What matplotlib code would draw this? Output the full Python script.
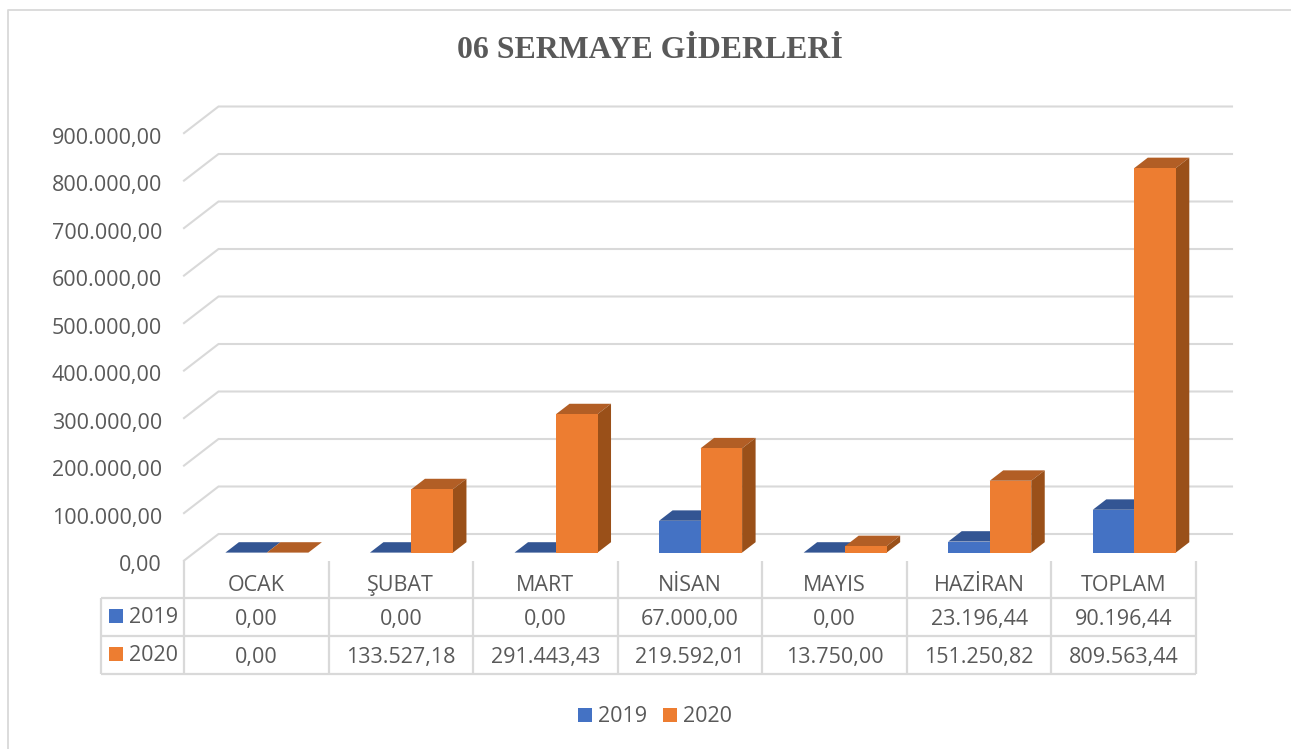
import matplotlib
matplotlib.use("Agg")
import matplotlib.pyplot as plt
from matplotlib.patches import Polygon, Rectangle
from matplotlib.lines import Line2D

# ---- data ----
categories = ["OCAK", "ŞUBAT", "MART", "NİSAN", "MAYIS", "HAZİRAN", "TOPLAM"]
series_names = ["2019", "2020"]
values_2019 = [0.00, 0.00, 0.00, 67000.00, 0.00, 23196.44, 90196.44]
values_2020 = [0.00, 133527.18, 291443.43, 219592.01, 13750.00, 151250.82, 809563.44]
labels_2019 = ["0,00", "0,00", "0,00", "67.000,00", "0,00", "23.196,44", "90.196,44"]
labels_2020 = ["0,00", "133.527,18", "291.443,43", "219.592,01", "13.750,00", "151.250,82", "809.563,44"]
y_ticks = [0, 100000, 200000, 300000, 400000, 500000, 600000, 700000, 800000, 900000]
y_tick_labels = ["0,00", "100.000,00", "200.000,00", "300.000,00", "400.000,00",
                 "500.000,00", "600.000,00", "700.000,00", "800.000,00", "900.000,00"]
title = "06 SERMAYE GİDERLERİ"

# ---- styling / layout (pixels) ----
W, H = 1291, 749
BLUE, BLUE_TOP = "#4472C4", "#335593"
ORANGE, ORANGE_TOP, ORANGE_SIDE = "#ED7D31", "#B25E25", "#9A5019"
BLUE_SIDE = "#2B4A85"
GRID, TEXT = "#D9D9D9", "#595959"
FONT = "Open Sans"
FS = 15.5
X0, CAT_W = 184.0, 144.57      # pixel of category 0 edge, pixels per category
Y0, PX_PER_UNIT = 552.6, 47.5e-5
BAR_W = 41.5 / CAT_W
BAR_SHIFT = 10.6 / CAT_W       # bar group centre offset in the category
DEPTH_X, DEPTH_Y = 13.5 / CAT_W, 10.4 / PX_PER_UNIT     # bar depth
FRONT_X, FRONT_Y = 0.0, -8.0 / PX_PER_UNIT              # floor front edge
BACK_X, BACK_Y = 34.5 / CAT_W, 18.6 / PX_PER_UNIT       # back wall
GRID_END = (1232 - X0) / CAT_W

fig = plt.figure(figsize=(W / 100, H / 100), dpi=100, facecolor="white")
ax = fig.add_axes([0, 0, 1, 1])
ax.set_xlim((0 - X0) / CAT_W, (W - X0) / CAT_W)
ax.set_ylim((Y0 - H) / PX_PER_UNIT, Y0 / PX_PER_UNIT)
ax.axis("off")

def px(x, y):
    """Pixel layout position to figure fraction."""
    return x / W, 1 - y / H

def fig_line(xs, ys, color=GRID, lw=1.6):
    fig.add_artist(Line2D([x / W for x in xs], [1 - y / H for y in ys],
                          color=color, lw=lw, solid_capstyle="butt"))

# frame
fig_line([8, 8, W], [H, 10, 10], lw=1.3)

# gridlines with the floor/wall bend, and value axis labels
for t, lab in zip(y_ticks, y_tick_labels):
    ax.plot([FRONT_X, BACK_X, GRID_END],
            [t + FRONT_Y, t + BACK_Y, t + BACK_Y],
            color=GRID, lw=1.5, zorder=1, solid_joinstyle="miter")
    ax.annotate(lab, (FRONT_X, t + FRONT_Y), xytext=(-22, -5), textcoords="offset pixels",
                ha="right", va="center", fontsize=FS, color=TEXT, family=FONT)

def draw_bar(x, v, front, top, side, z):
    ax.add_patch(Polygon([(x, v), (x + DEPTH_X, v + DEPTH_Y),
                          (x + BAR_W + DEPTH_X, v + DEPTH_Y), (x + BAR_W, v)],
                         closed=True, fc=top, ec="none", zorder=z))
    ax.add_patch(Polygon([(x + BAR_W, 0), (x + BAR_W + DEPTH_X, DEPTH_Y),
                          (x + BAR_W + DEPTH_X, v + DEPTH_Y), (x + BAR_W, v)],
                         closed=True, fc=side, ec="none", zorder=z))
    ax.add_patch(Rectangle((x, 0), BAR_W, v, fc=front, ec="none", zorder=z + 0.1))

for i, (a, b) in enumerate(zip(values_2019, values_2020)):
    c = i + 0.5 + BAR_SHIFT
    draw_bar(c - BAR_W, a, BLUE, BLUE_TOP, BLUE_SIDE, 3)
    draw_bar(c, b, ORANGE, ORANGE_TOP, ORANGE_SIDE, 4)

# data table
ROW_Y = [560.5, 597.5, 636, 674]
LEFT = 101
N = len(categories)
col_x = [X0 + CAT_W * k for k in range(N + 1)]
for y in ROW_Y[1:]:
    fig_line([LEFT, col_x[-1]], [y, y])
for x in col_x:
    fig_line([x, x], [ROW_Y[0], ROW_Y[-1]])
fig_line([LEFT, LEFT], [ROW_Y[1], ROW_Y[-1]])

def cell(x, y, s):
    fx, fy = px(x, y)
    fig.text(fx, fy, s, ha="center", va="center", fontsize=FS, color=TEXT, family=FONT)

for k in range(N):
    cx = X0 + CAT_W * (k + 0.5)
    cell(cx, 585.5, categories[k])
    cell(cx, 619, labels_2019[k])
    cell(cx, 657, labels_2020[k])

for name, color, y in zip(series_names, (BLUE, ORANGE), (616, 654)):
    fig.add_artist(Rectangle(px(109, y + 7), 14 / W, 14 / H, transform=fig.transFigure, fc=color, ec="none"))
    fig.text(*px(129, y + 1.5), name, ha="left", va="center", fontsize=FS, color=TEXT, family=FONT)

# legend
for name, color, x in zip(series_names, (BLUE, ORANGE), (578, 663)):
    fig.add_artist(Rectangle(px(x, 722), 14 / W, 14 / H, transform=fig.transFigure, fc=color, ec="none"))
    fig.text(*px(x + 20, 716), name, ha="left", va="center", fontsize=FS, color=TEXT, family=FONT)

# title
fig.text(*px(650, 51), title, ha="center", va="center", fontsize=22.9, fontweight="bold",
         color=TEXT, family="Liberation Serif")

fig.savefig("out.png", dpi=100, facecolor="white")
